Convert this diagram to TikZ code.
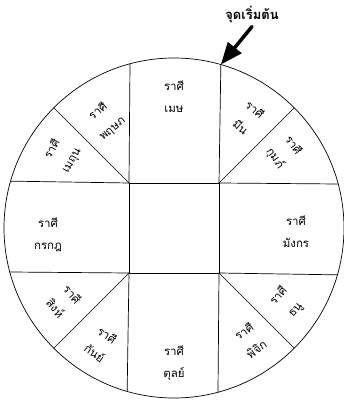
\documentclass[tikz,border=0pt]{standalone}
\usepackage{fontspec}
\newfontfamily\thaifont[Script=Thai]{Loma}
\usetikzlibrary{arrows.meta}

\begin{document}
\begin{tikzpicture}[line cap=round,line join=round,x=1pt,y=1pt,
        rim/.style={line width=0.7pt},
        sign/.style={font=\thaifont\fontsize{11.5}{22}\selectfont,align=center,inner sep=0pt},
        pointer/.style={line width=3.5pt,-{Triangle[length=22pt,width=17pt]}}]
        \useasboundingbox (-174,-175) rectangle (170,228);
        \pgfmathsetmacro{\off}{asin(45/170)}
        \pgfmathsetmacro{\ang}{90-\off}
        \node [circle,draw,rim,minimum size=340pt,inner sep=0pt,outer sep=0pt] (wheel) at (0,0) {};
        \node [rectangle,draw,rim,minimum size=90pt,inner sep=0pt,outer sep=0pt] (sq) at (0,0) {};
        \foreach \corner/\dir in {north east/45,north west/135,south west/225,south east/315} {
            \pgfmathsetmacro{\lo}{\dir-45+\off}
            \pgfmathsetmacro{\hi}{\dir+45-\off}
            \draw [rim] (sq.\corner) -- (wheel.\lo);
            \draw [rim] (sq.\corner) -- (wheel.\dir);
            \draw [rim] (sq.\corner) -- (wheel.\hi);
        }
        \node [sign] (mesh) at (0,131) {ราศี\\เมษ};
        \node [sign,rotate=40] (pruksap) at (-69,108) {ราศี\\พฤษภ};
        \node [sign,rotate=60] (methun) at (-112,73) {ราศี\\เมถุน};
        \node [sign] (karakot) at (-126,-7) {ราศี\\กรกฎ};
        \node [sign,rotate=-50] (singh) at (-110,-73) {ราศี\\สิงห์};
        \node [sign,rotate=-35] (kanya) at (-73,-116) {ราศี\\กันย์};
        \node [sign] (tul) at (0,-135) {ราศี\\ตุลย์};
        \node [sign,rotate=35] (pichik) at (76,-112) {ราศี\\พิจิก};
        \node [sign,rotate=50] (thanu) at (113,-75) {ราศี\\ธนู};
        \node [sign] (mangkon) at (122,-4) {ราศี\\มังกร};
        \node [sign,rotate=-55] (kumph) at (110,76) {ราศี\\กุมภ์};
        \node [sign,rotate=-40] (meen) at (74,110) {ราศี\\มีน};
        \node [font=\thaifont\bfseries\fontsize{13}{14}\selectfont,inner sep=0pt] (start) at (78,213) {จุดเริ่มต้น};
        \draw [pointer] ([yshift=-3pt]start.south) -- (wheel.\ang);
    \end{tikzpicture}
\end{document}
